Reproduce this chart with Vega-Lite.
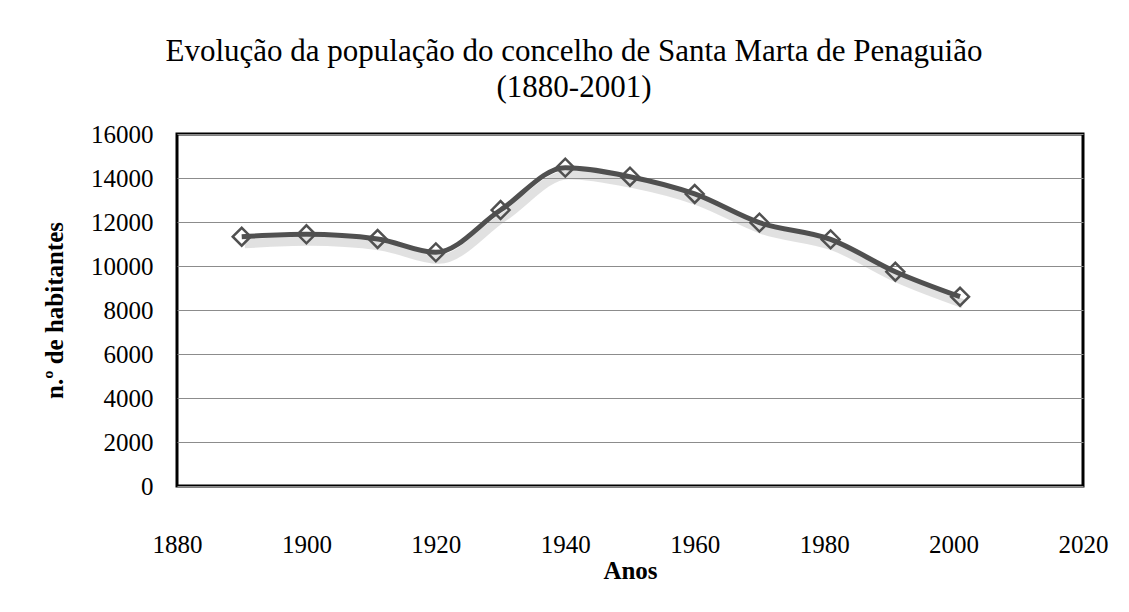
{
  "$schema": "https://vega.github.io/schema/vega-lite/v6.json",
  "autosize": {"type": "none"},
  "width": 906,
  "height": 352,
  "padding": {"left": 177, "top": 134, "right": 46, "bottom": 126},
  "background": "#ffffff",
  "title": {
    "text": ["Evolução da população do concelho de Santa Marta de Penaguião", "(1880-2001)"],
    "font": "Liberation Serif",
    "fontSize": 31,
    "fontWeight": "normal",
    "color": "#000000",
    "anchor": "middle",
    "dx": -56,
    "offset": 18,
    "lineHeight": 36
  },
  "data": {
    "values": [
      {"ano": 1890, "habitantes": 11330},
      {"ano": 1900, "habitantes": 11440},
      {"ano": 1911, "habitantes": 11230},
      {"ano": 1920, "habitantes": 10620},
      {"ano": 1930, "habitantes": 12545},
      {"ano": 1940, "habitantes": 14470},
      {"ano": 1950, "habitantes": 14060},
      {"ano": 1960, "habitantes": 13275},
      {"ano": 1970, "habitantes": 11970},
      {"ano": 1981, "habitantes": 11210},
      {"ano": 1991, "habitantes": 9740},
      {"ano": 2001, "habitantes": 8605}
    ]
  },
  "encoding": {
    "x": {
      "field": "ano",
      "type": "quantitative",
      "scale": {"domain": [1880, 2020], "nice": false, "zero": false},
      "axis": {
        "title": "Anos",
        "values": [1880, 1900, 1920, 1940, 1960, 1980, 2000, 2020],
        "format": "d",
        "grid": false,
        "domain": false,
        "ticks": false,
        "labelFlush": false,
        "labelOverlap": false,
        "labelBound": false,
        "labelPadding": 46,
        "titlePadding": 1
      }
    },
    "y": {
      "field": "habitantes",
      "type": "quantitative",
      "scale": {"domain": [0, 16000], "nice": false},
      "axis": {
        "title": "n.º de habitantes",
        "values": [0, 2000, 4000, 6000, 8000, 10000, 12000, 14000, 16000],
        "format": "d",
        "grid": true,
        "gridColor": "#8c8c8c",
        "gridWidth": 1,
        "gridOpacity": 1,
        "domain": false,
        "ticks": false,
        "labelFlush": false,
        "labelOverlap": false,
        "labelPadding": 24,
        "titlePadding": 23
      }
    }
  },
  "layer": [
    {
      "mark": {"type": "line", "interpolate": "monotone", "color": "#9a9a9a", "opacity": 0.3, "strokeWidth": 9, "xOffset": 3, "yOffset": 7}
    },
    {
      "mark": {"type": "line", "interpolate": "monotone", "color": "#505050", "strokeWidth": 5}
    },
    {
      "mark": {"type": "point", "shape": "diamond", "filled": false, "size": 320, "stroke": "#505050", "strokeWidth": 2.5, "opacity": 1}
    }
  ],
  "config": {
    "view": {"stroke": "#000000", "strokeWidth": 3},
    "axis": {
      "labelFont": "Liberation Serif",
      "labelFontSize": 25,
      "labelColor": "#000000",
      "titleFont": "Liberation Serif",
      "titleFontSize": 25,
      "titleFontWeight": "bold",
      "titleColor": "#000000"
    }
  }
}
